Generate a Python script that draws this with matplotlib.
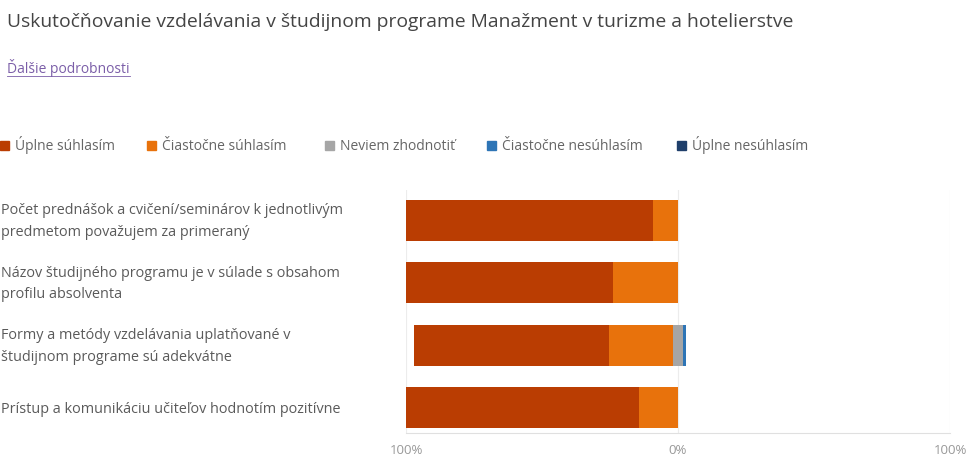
import numpy as np
import matplotlib
matplotlib.use("Agg")
import matplotlib.pyplot as plt
from matplotlib.transforms import blended_transform_factory
from matplotlib.lines import Line2D

title = "Uskutočňovanie vzdelávania v študijnom programe Manažment v turizme a hotelierstve"
link = "Ďalšie podrobnosti"

categories = [
    "Počet prednášok a cvičení/seminárov k jednotlivým\npredmetom považujem za primeraný",
    "Názov študijného programu je v súlade s obsahom\nprofilu absolventa",
    "Formy a metódy vzdelávania uplatňované v\nštudijnom programe sú adekvátne",
    "Prístup a komunikáciu učiteľov hodnotím pozitívne",
]
series_names = ["Úplne súhlasím", "Čiastočne súhlasím", "Neviem zhodnotiť",
                "Čiastočne nesúhlasím", "Úplne nesúhlasím"]
# percentages per category
uplne_suhlasim = [90.9, 76.0, 71.5, 85.7]
ciastocne_suhlasim = [9.1, 24.0, 23.5, 14.3]
neviem = [0.0, 0.0, 4.0, 0.0]
ciastocne_nesuhlasim = [0.0, 0.0, 1.0, 0.0]
uplne_nesuhlasim = [0.0, 0.0, 0.0, 0.0]
tick_values = [-100, 0, 100]
tick_labels = ["100%", "0%", "100%"]

colors = ["#BA3D02", "#E8720C", "#A6A6A6", "#2E75B6", "#1F3F6B"]

plt.rcParams['font.family'] = ['Open Sans', 'DejaVu Sans']

W, H = 971, 459
fig = plt.figure(figsize=(W / 100, H / 100), dpi=100)
fig.patch.set_facecolor("white")

ax = fig.add_axes([406 / W, 1 - 433 / H, (950 - 406) / W, (433 - 190) / H])

sa = np.array(uplne_suhlasim)
pa = np.array(ciastocne_suhlasim)
nn = np.array(neviem)
pd_ = np.array(ciastocne_nesuhlasim)
sd = np.array(uplne_nesuhlasim)
y = np.arange(len(categories))
h = 0.655

ax.barh(y, sa, left=-(sa + pa + nn / 2), height=h, color=colors[0])
ax.barh(y, pa, left=-(pa + nn / 2), height=h, color=colors[1])
ax.barh(y, nn, left=-nn / 2, height=h, color=colors[2])
ax.barh(y, pd_, left=nn / 2, height=h, color=colors[3])
ax.barh(y, sd, left=nn / 2 + pd_, height=h, color=colors[4])

ax.set_xlim(-100, 100)
ax.set_ylim(3.4, -0.48)
for v in tick_values:
    ax.axvline(v, color="#ECECEC", lw=0.8, zorder=0)
for s in ["top", "right", "left"]:
    ax.spines[s].set_visible(False)
ax.spines["bottom"].set_color("#E0E0E0")
ax.spines["bottom"].set_linewidth(0.8)
ax.set_yticks([])
ax.set_xticks(tick_values)
ax.set_xticklabels(tick_labels, fontsize=9.5, color="#999999")
ax.tick_params(axis="x", length=0, pad=8)

# category labels, left aligned at the figure edge
trans = blended_transform_factory(fig.transFigure, ax.transData)
for i, c in enumerate(categories):
    ax.text(1 / W, i + 0.02, c, transform=trans, ha="left", va="center",
            fontsize=10.4, color="#5A5A5A", linespacing=1.6)

# title and link
fig.text(7 / W, 1 - 22 / H, title, fontsize=13.9, color="#444444",
         ha="left", va="center")
lt = fig.text(7 / W, 1 - 68 / H, link, fontsize=10, color="#7B5EA8",
              ha="left", va="center")

# legend row
leg_x = [0, 147, 325, 487, 677]
for x0, name, col in zip(leg_x, series_names, colors):
    fig.patches.append(plt.Rectangle((x0 / W, 1 - 150 / H), 9 / W, 9 / H,
                                     transform=fig.transFigure, color=col))
    fig.text((x0 + 15) / W, 1 - 150 / H, name, fontsize=10, color="#666666",
             ha="left", va="baseline")

fig.canvas.draw()
bb = lt.get_window_extent().transformed(fig.transFigure.inverted())
fig.lines.append(Line2D([bb.x0, bb.x1], [bb.y0 + 1 / H, bb.y0 + 1 / H],
                        transform=fig.transFigure, color="#7B5EA8", lw=0.6))

fig.savefig("out.png", dpi=100)
